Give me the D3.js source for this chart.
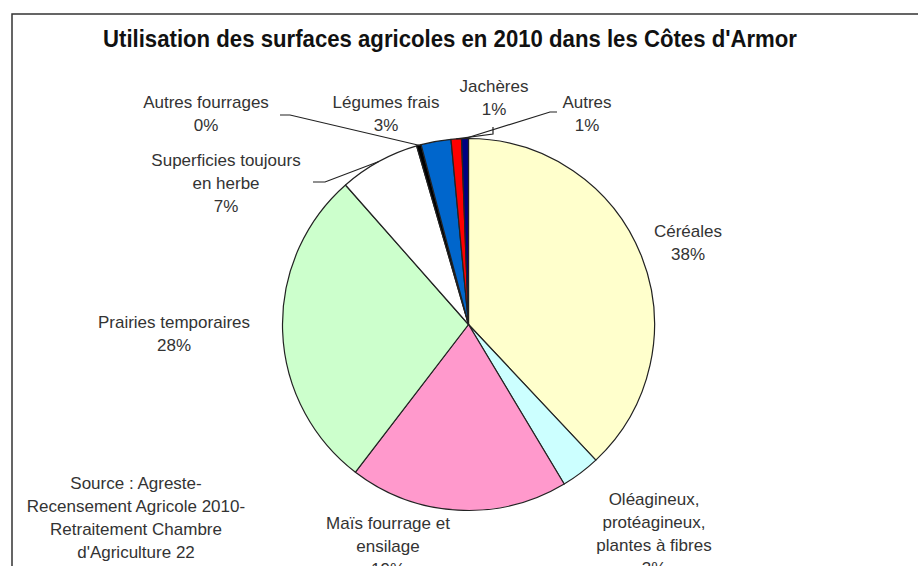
<!DOCTYPE html>
<html>
<head>
<meta charset="utf-8">
<script src="https://cdn.jsdelivr.net/npm/d3@7/dist/d3.min.js"></script>
<style>
  body { margin: 0; background: #fff; }
  svg { display: block; }
  text { font-family: Arial, "Liberation Sans", sans-serif; }
</style>
</head>
<body>
<svg></svg>
<script>
// data, clockwise from 12 o'clock
const categories = ["Céréales", "Oléagineux, protéagineux, plantes à fibres", "Maïs fourrage et ensilage",
    "Prairies temporaires", "Superficies toujours en herbe", "Autres fourrages", "Légumes frais", "Jachères", "Autres"];
const values = [38.0, 3.4, 19.0, 28.1, 7.0, 0.4, 2.6, 0.9, 0.6];
const colors = ["#FFFFCC", "#CCFFFF", "#FF99CC", "#CCFFCC", "#FFFFFF", "#000000", "#0066CC", "#FF0000", "#000080"];
const labelLines = [["Céréales"], ["Oléagineux,", "protéagineux,", "plantes à fibres"], ["Maïs fourrage et", "ensilage"],
    ["Prairies temporaires"], ["Superficies toujours", "en herbe"], ["Autres fourrages"], ["Légumes frais"], ["Jachères"], ["Autres"]];
const title = "Utilisation des surfaces agricoles en 2010 dans les Côtes d'Armor";
const sourceLines = ["Source : Agreste-", "Recensement Agricole 2010-", "Retraitement Chambre", "d'Agriculture 22"];

// layout: label anchor (centre x, first baseline) and leader elbows
const labelPos = [[688, 237], [654, 505], [388, 529], [174, 328], [226, 166], [206, 108], [386, 108], [494, 92], [587, 108]];
const leaders = {4: [[313, 182], [325, 182]], 5: [[280, 115], [290, 115]], 7: [[493, 127], [493, 134]], 8: [[557, 112], [550, 112]]};

const width = 918;
const height = 566;
const cx = 468.5, cy = 324.5, radius = 186;
const lineH = 23;

const svg = d3.select("svg")
    .attr("width", width)
    .attr("height", height);

svg.append("rect")
    .attr("x", 12).attr("y", 14)
    .attr("width", 940).attr("height", 600)
    .attr("fill", "none")
    .attr("stroke", "#333")
    .attr("stroke-width", 1.5);

svg.append("text")
    .attr("x", 450).attr("y", 47)
    .attr("text-anchor", "middle")
    .attr("textLength", 694)
    .attr("lengthAdjust", "spacingAndGlyphs")
    .style("font-size", "24px")
    .style("font-weight", "bold")
    .attr("fill", "#111")
    .text(title);

const pie = d3.pie().sort(null).value(d => d);
const arcs = pie(values);
const total = d3.sum(values);

const arc = d3.arc().innerRadius(0).outerRadius(radius);
const edge = d3.arc().innerRadius(radius).outerRadius(radius);

const g = svg.append("g").attr("transform", `translate(${cx}, ${cy})`);

g.selectAll("path")
    .data(arcs)
    .join("path")
    .attr("d", arc)
    .attr("fill", (d, i) => colors[i])
    .attr("stroke", "#222")
    .attr("stroke-width", 1.2)
    .attr("stroke-linejoin", "round");

// leader lines
Object.keys(leaders).forEach(k => {
    const i = +k;
    const end = edge.centroid(arcs[i]);
    const pts = leaders[i].concat([[end[0] + cx, end[1] + cy]]);
    svg.append("path")
        .attr("d", d3.line()(pts))
        .attr("fill", "none")
        .attr("stroke", "#222")
        .attr("stroke-width", 1.2);
});

// labels
const labels = svg.append("g")
    .attr("fill", "#333")
    .style("font-size", "17px")
    .attr("text-anchor", "middle");

arcs.forEach((d, i) => {
    const lines = labelLines[i].concat([Math.round(d.value / total * 100) + "%"]);
    const t = labels.append("text")
        .attr("x", labelPos[i][0])
        .attr("y", labelPos[i][1]);
    lines.forEach((s, j) => {
        t.append("tspan")
            .attr("x", labelPos[i][0])
            .attr("dy", j === 0 ? 0 : lineH)
            .text(s);
    });
});

const src = labels.append("text").attr("x", 136).attr("y", 489);
sourceLines.forEach((s, j) => {
    src.append("tspan")
        .attr("x", 136)
        .attr("dy", j === 0 ? 0 : lineH)
        .text(s);
});
</script>
</body>
</html>
